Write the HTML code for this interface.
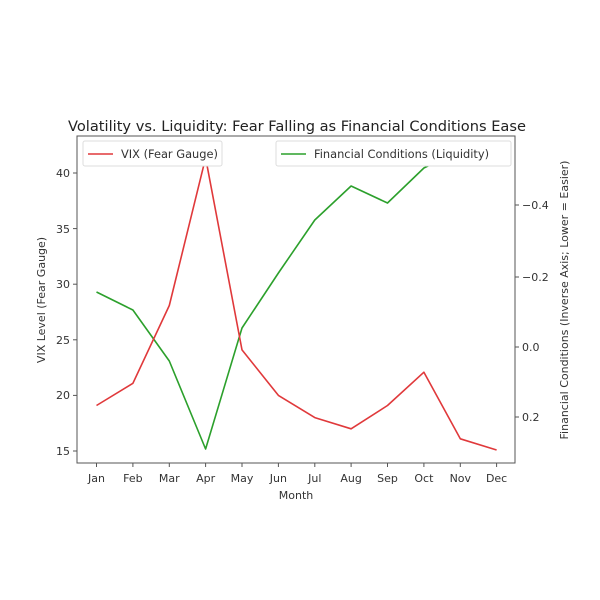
<!DOCTYPE html>
<html><head><meta charset="utf-8"><style>body{margin:0;background:#fff}svg{display:block;font-family:"DejaVu Sans","Liberation Sans",sans-serif}</style></head><body>
<svg width="600" height="600" viewBox="0 0 600 600" xmlns="http://www.w3.org/2000/svg">
<rect width="600" height="600" fill="#fff"/>
<text x="297" y="131" font-size="14.6" text-anchor="middle" fill="#222">Volatility vs. Liquidity: Fear Falling as Financial Conditions Ease</text>
<defs><clipPath id="c"><rect x="77" y="136" width="438" height="327"/></clipPath><clipPath id="g"><rect x="77" y="142" width="438" height="321"/></clipPath></defs>
<g fill="none" stroke-width="1.6" stroke-linejoin="round">
<polyline clip-path="url(#g)" stroke="#2ca02c" points="96.5,292 132.9,310 169.3,361 205.6,449 242,328 278.4,273 314.8,220 351.1,186 387.5,203 423.9,168 460.3,150 496.6,130"/>
<polyline clip-path="url(#c)" stroke="#e0393b" points="96.5,405.5 132.9,383.3 169.3,305.5 205.6,157.8 242,349.9 278.4,395.4 314.8,417.6 351.1,428.8 387.5,405.5 423.9,372.2 460.3,438.8 496.6,450"/>
</g>
<rect x="77" y="136" width="438" height="327" fill="none" stroke="#555" stroke-width="1"/>
<g stroke="#555" stroke-width="1">
<line x1="77" x2="73" y1="451" y2="451"/><line x1="77" x2="73" y1="395.4" y2="395.4"/><line x1="77" x2="73" y1="339.8" y2="339.8"/><line x1="77" x2="73" y1="284.2" y2="284.2"/><line x1="77" x2="73" y1="228.6" y2="228.6"/><line x1="77" x2="73" y1="173" y2="173"/>
<line x1="515" x2="519" y1="205" y2="205"/><line x1="515" x2="519" y1="277" y2="277"/><line x1="515" x2="519" y1="347" y2="347"/><line x1="515" x2="519" y1="417" y2="417"/>
<line x1="96.5" x2="96.5" y1="463" y2="467"/><line x1="132.9" x2="132.9" y1="463" y2="467"/><line x1="169.3" x2="169.3" y1="463" y2="467"/><line x1="205.6" x2="205.6" y1="463" y2="467"/><line x1="242" x2="242" y1="463" y2="467"/><line x1="278.4" x2="278.4" y1="463" y2="467"/><line x1="314.8" x2="314.8" y1="463" y2="467"/><line x1="351.1" x2="351.1" y1="463" y2="467"/><line x1="387.5" x2="387.5" y1="463" y2="467"/><line x1="423.9" x2="423.9" y1="463" y2="467"/><line x1="460.3" x2="460.3" y1="463" y2="467"/><line x1="496.6" x2="496.6" y1="463" y2="467"/>
</g>
<g font-size="11" fill="#333" text-anchor="end">
<text x="70" y="455">15</text><text x="70" y="399">20</text><text x="70" y="344">25</text><text x="70" y="288">30</text><text x="70" y="233">35</text><text x="70" y="177">40</text>
</g>
<g font-size="11" fill="#333">
<text x="522" y="209">−0.4</text><text x="522" y="281">−0.2</text><text x="522" y="351">0.0</text><text x="522" y="421">0.2</text>
</g>
<g font-size="11" fill="#333" text-anchor="middle">
<text x="96.5" y="482">Jan</text><text x="132.9" y="482">Feb</text><text x="169.3" y="482">Mar</text><text x="205.6" y="482">Apr</text><text x="242" y="482">May</text><text x="278.4" y="482">Jun</text><text x="314.8" y="482">Jul</text><text x="351.1" y="482">Aug</text><text x="387.5" y="482">Sep</text><text x="423.9" y="482">Oct</text><text x="460.3" y="482">Nov</text><text x="496.6" y="482">Dec</text>
<text x="296" y="499">Month</text>
<text transform="translate(45,300) rotate(-90)">VIX Level (Fear Gauge)</text>
<text transform="translate(568,300) rotate(-90)">Financial Conditions (Inverse Axis; Lower = Easier)</text>
</g>
<rect x="83" y="141" width="139" height="25" rx="2" fill="#fff" stroke="#ddd"/>
<line x1="88" x2="113" y1="154" y2="154" stroke="#e0393b" stroke-width="1.6"/>
<text x="121" y="158" font-size="11.4" fill="#333">VIX (Fear Gauge)</text>
<rect x="276" y="141" width="235" height="25" rx="2" fill="#fff" stroke="#ddd"/>
<line x1="281" x2="306" y1="154" y2="154" stroke="#2ca02c" stroke-width="1.6"/>
<text x="314" y="158" font-size="11.4" fill="#333">Financial Conditions (Liquidity)</text>
</svg>
</body></html>
